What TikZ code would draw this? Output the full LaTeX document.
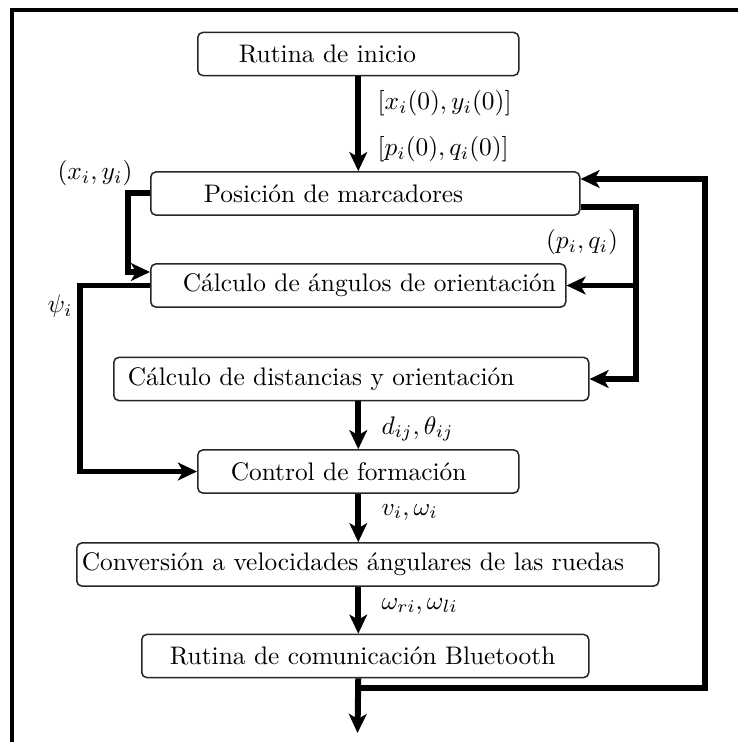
\documentclass[tikz,border=0pt]{standalone}
\usetikzlibrary{arrows.meta,calc}
\newdimen\px \px=0.394pt
\newcommand{\boxtxt}[3]{\makebox[#1\px][l]{\hspace*{#2\px}#3}}
\begin{document}
\begin{tikzpicture}[x=0.394pt,y=-0.394pt,
  box/.style={draw=black!85, line width=0.6pt, rounded corners=2pt, inner sep=0pt, minimum height=17pt, anchor=west},
  flow/.style={line width=2.36pt, -{Stealth[length=7.5pt,width=7pt,inset=2pt]}},
  lab/.style={inner sep=0pt}]
\useasboundingbox (0,0) rectangle (738,742);
\draw[line width=1.6pt] (738,10) -- (12,10) -- (12,742);

% boxes
\node[box] (b1) at (197,54)    {\boxtxt{321}{41}{Rutina de inicio}};
\node[box] (b2) at (150,193.5) {\boxtxt{429}{53}{Posición de marcadores}};
\node[box] (b3) at (150,285.5) {\boxtxt{415}{32}{Cálculo de ángulos de orientación}};
\node[box] (b4) at (113,379)   {\boxtxt{475}{14}{Cálculo de distancias y orientación}};
\node[box] (b5) at (197,471.5) {\boxtxt{321}{33}{Control de formación}};
\node[box] (b6) at (76,564.5)  {\boxtxt{582}{5}{Conversión a velocidades ángulares de las ruedas}};
\node[box] (b7) at (141,656)   {\boxtxt{447}{28}{Rutina de comunicación Bluetooth}};

% labels
\node[lab, anchor=west] (lx0) at (377,103.5) {$[x_i(0), y_i(0)]$};
\node[lab, anchor=west] (lp0) at (377,149)   {$[p_i(0), q_i(0)]$};
\node[lab] (lxy) at (95,173)  {$(x_i, y_i)$};
\node[lab] (lpq) at (582,242) {$(p_i, q_i)$};
\node[lab] (lpsi) at (60,306) {$\psi_i$};
\node[lab, anchor=west] (ld) at (381,429) {$d_{ij}, \theta_{ij}$};
\node[lab, anchor=west] (lv) at (381,512) {$v_i, \omega_i$};
\node[lab, anchor=west] (lw) at (381,606) {$\omega_{ri}, \omega_{li}$};

% helper coordinates
\coordinate (out) at (357.5,733);
\coordinate (fbj) at (357.5,688);
\coordinate (xf) at (705,0);
\coordinate (xr) at (636,0);
\coordinate (xl) at (128,0);
\coordinate (xp) at (80,0);
\coordinate (b2o) at ($(b2.east)+(0,13.5)$);
\coordinate (b2i) at ($(b2.east)+(0,-14.5)$);
\coordinate (b3i) at ($(b3.west)+(0,-13.5)$);

% main column
\draw[flow] (b1.south) -- (b1.south |- b2.north);
\draw[flow] (b1.south |- b4.south) -- (b5.north);
\draw[flow] (b5.south) -- (b5.south |- b6.north);
\draw[flow] (b5.south |- b6.south) -- (b5.south |- b7.north);
\draw[flow] (b5.south |- b7.south) -- (out);

% feedback
\draw[flow] (fbj) -- (fbj -| xf) |- (b2i);

% right side
\draw[flow] (b2o) -- (b2o -| xr) |- (b4.east);
\draw[flow] (b3.east -| xr) -- (b3.east);

% left side
\draw[flow] (b2.west) -- (b2.west -| xl) |- (b3i);
\draw[flow] (b3.west) -- (b3.west -| xp) |- (b5.west);
\end{tikzpicture}
\end{document}
